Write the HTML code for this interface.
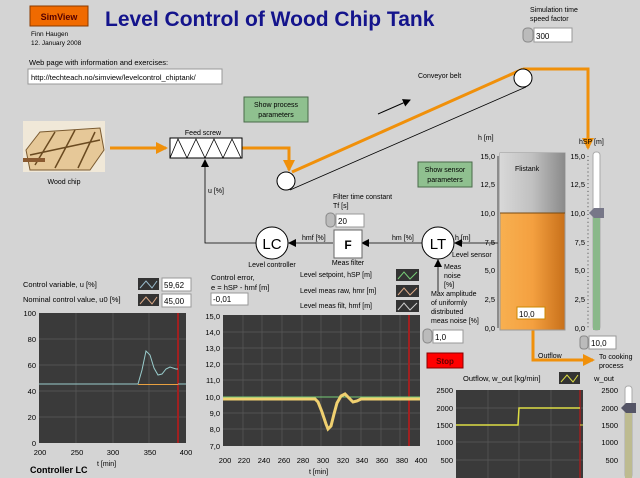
<!DOCTYPE html>
<html><head><meta charset="utf-8"><style>
body{margin:0;background:#d4d4d4;}
svg{display:block;font-family:"Liberation Sans",sans-serif;}
</style></head><body>
<svg width="640" height="478" viewBox="0 0 640 478" xmlns="http://www.w3.org/2000/svg">
<defs>
<linearGradient id="tk" x1="0" x2="1"><stop offset="0" stop-color="#d8d8d8"/><stop offset="0.5" stop-color="#c0c0c0"/><stop offset="1" stop-color="#8a8a8a"/></linearGradient>
<linearGradient id="tko" x1="0" x2="1"><stop offset="0" stop-color="#f8b050"/><stop offset="0.5" stop-color="#f4a040"/><stop offset="1" stop-color="#c8701a"/></linearGradient>
<marker id="ab" markerWidth="8" markerHeight="8" refX="7" refY="4" orient="auto" markerUnits="userSpaceOnUse"><path d="M0,0 L8,4 L0,8z" fill="#000"/></marker>
<marker id="ao" markerWidth="12" markerHeight="12" refX="10" refY="6" orient="auto" markerUnits="userSpaceOnUse"><path d="M0,0 L12,6 L0,12z" fill="#f0900a"/></marker>
</defs>
<rect width="640" height="478" fill="#d4d4d4"/>
<rect x="30" y="6" width="58" height="20" fill="#f06a00" stroke="#8a3a00"/>
<text x="59" y="20" font-size="9" font-weight="bold" fill="#500" text-anchor="middle">SimView</text>
<text x="105" y="26" font-size="21" font-weight="bold" fill="#14148c">Level Control of Wood Chip Tank</text>
<text x="31" y="36" font-size="6.5">Finn Haugen</text>
<text x="31" y="45" font-size="6.5">12. January 2008</text>
<text x="29" y="65" font-size="7.5">Web page with information and exercises:</text>
<rect x="28" y="69" width="194" height="15" fill="#fff" stroke="#999"/>
<text x="31" y="80" font-size="7.5">http://techteach.no/simview/levelcontrol_chiptank/</text>
<text x="530" y="12" font-size="7">Simulation time</text>
<text x="530" y="21" font-size="7">speed factor</text>
<rect x="523" y="28" width="10" height="14" rx="4" fill="#bbb" stroke="#888"/>
<rect x="534" y="28" width="38" height="14" fill="#fff" stroke="#999"/>
<text x="536" y="39" font-size="8">300</text>
<rect x="244" y="97" width="64" height="25" fill="#8fc08f" stroke="#4a6a4a"/>
<text x="276" y="107" font-size="7" text-anchor="middle">Show process</text>
<text x="276" y="117" font-size="7" text-anchor="middle">parameters</text>
<rect x="418" y="162" width="54" height="25" fill="#8fc08f" stroke="#4a6a4a"/>
<text x="445" y="172" font-size="7" text-anchor="middle">Show sensor</text>
<text x="445" y="182" font-size="7" text-anchor="middle">parameters</text>
<rect x="23" y="121" width="82" height="51" fill="#f0e8d8"/>
<path d="M26,150 L40,132 L100,128 L104,150 L90,170 L30,170z" fill="#e6c898" stroke="#7a5a30"/>
<path d="M35,165 L55,132 M55,168 L75,130 M78,168 L95,132 M30,155 L100,140" stroke="#6a4a20" stroke-width="1.5" fill="none"/>
<rect x="23" y="158" width="22" height="4" fill="#8a5a30"/>
<text x="64" y="184" font-size="7" text-anchor="middle">Wood chip</text>
<g stroke="#f0900a" stroke-width="3" fill="none">
<line x1="110" y1="148" x2="166" y2="148" marker-end="url(#ao)"/>
<polyline points="242,148 289,148 289,170" marker-end="url(#ao)"/>
<line x1="292" y1="172" x2="523" y2="69"/>
<polyline points="523,69 588,69 588,148" marker-end="url(#ao)"/>
<polyline points="533,330 533,360 593,360" marker-end="url(#ao)"/>
</g>
<text x="203" y="135" font-size="7" text-anchor="middle">Feed screw</text>
<rect x="170" y="138" width="72" height="20" fill="#fff" stroke="#000"/>
<polyline points="170,158 178,139 187,158 196,139 205,158 214,139 223,158 232,139 241,158" fill="none" stroke="#000" stroke-width="0.8"/>
<line x1="290" y1="190" x2="526" y2="87" stroke="#000" stroke-width="0.8"/>
<circle cx="286" cy="181" r="9" fill="#fff" stroke="#000"/>
<circle cx="523" cy="78" r="9" fill="#fff" stroke="#000"/>
<text x="418" y="78" font-size="7">Conveyor belt</text>
<line x1="378" y1="114" x2="410" y2="100" stroke="#000" marker-end="url(#ab)"/>
<polyline points="256,243 205,243 205,160" fill="none" stroke="#000" stroke-width="0.8" marker-end="url(#ab)"/>
<text x="208" y="193" font-size="7">u [%]</text>
<line x1="422" y1="243" x2="362" y2="243" stroke="#000" stroke-width="0.8" marker-end="url(#ab)"/>
<line x1="333" y1="243" x2="289" y2="243" stroke="#000" stroke-width="0.8" marker-end="url(#ab)"/>
<line x1="498" y1="243" x2="455" y2="243" stroke="#000" stroke-width="0.8" marker-end="url(#ab)"/>
<line x1="438" y1="292" x2="438" y2="260" stroke="#000" stroke-width="0.8" marker-end="url(#ab)"/>
<circle cx="272" cy="243" r="16" fill="#fff" stroke="#000"/>
<text x="272" y="249" font-size="15" text-anchor="middle">LC</text>
<circle cx="438" cy="243" r="16" fill="#fff" stroke="#000"/>
<text x="438" y="249" font-size="15" text-anchor="middle">LT</text>
<rect x="334" y="230" width="28" height="28" fill="#fff" stroke="#666"/>
<text x="348" y="249" font-size="12" font-weight="bold" text-anchor="middle">F</text>
<text x="302" y="240" font-size="7">hmf [%]</text>
<text x="392" y="240" font-size="7">hm [%]</text>
<text x="455" y="240" font-size="7">h [m]</text>
<text x="452" y="257" font-size="7">Level sensor</text>
<text x="272" y="267" font-size="7" text-anchor="middle">Level controller</text>
<text x="348" y="265" font-size="7" text-anchor="middle">Meas filter</text>
<text x="333" y="199" font-size="7">Filter time constant</text>
<text x="333" y="208" font-size="7">Tf [s]</text>
<rect x="326" y="213" width="9" height="14" rx="4" fill="#bbb" stroke="#888"/>
<rect x="336" y="214" width="28" height="13" fill="#fff" stroke="#999"/>
<text x="338" y="224" font-size="8">20</text>
<text x="444" y="269" font-size="7">Meas</text>
<text x="444" y="278" font-size="7">noise</text>
<text x="444" y="287" font-size="7">[%]</text>
<text x="431" y="296" font-size="7">Max amplitude</text>
<text x="431" y="305" font-size="7">of uniformly</text>
<text x="431" y="314" font-size="7">distributed</text>
<text x="431" y="323" font-size="7">meas noise [%]</text>
<rect x="423" y="329" width="9" height="14" rx="4" fill="#bbb" stroke="#888"/>
<rect x="433" y="330" width="30" height="13" fill="#fff" stroke="#999"/>
<text x="435" y="340" font-size="8">1,0</text>
<text x="300" y="277" font-size="7">Level setpoint, hSP [m]</text>
<text x="300" y="293" font-size="7">Level meas raw, hmr [m]</text>
<text x="300" y="308" font-size="7">Level meas filt, hmf [m]</text>
<g stroke-width="1" fill="none">
<rect x="396" y="269" width="23" height="12" fill="#333"/><polyline points="398,279 404,272 410,279 417,272" stroke="#7c7"/>
<rect x="396" y="285" width="23" height="12" fill="#333"/><polyline points="398,295 404,288 410,295 417,288" stroke="#da8"/>
<rect x="396" y="300" width="23" height="12" fill="#333"/><polyline points="398,310 404,303 410,310 417,303" stroke="#ccc"/>
</g>
<text x="478" y="140" font-size="7">h [m]</text>
<rect x="500" y="153" width="65" height="177" fill="url(#tko)" stroke="#999"/>
<rect x="500" y="153" width="65" height="60" fill="url(#tk)"/>
<line x1="500" y1="213" x2="565" y2="213" stroke="#7a4a10"/>
<text x="515" y="171" font-size="7">Flistank</text>
<rect x="517" y="307" width="28" height="12" fill="#fff" stroke="#c80"/>
<text x="519" y="317" font-size="8">10,0</text>
<g font-size="7.5" text-anchor="end">
<text x="495" y="159">15,0</text><text x="495" y="187">12,5</text><text x="495" y="216">10,0</text><text x="495" y="245">7,5</text><text x="495" y="273">5,0</text><text x="495" y="302">2,5</text><text x="495" y="331">0,0</text>
<text x="585" y="159">15,0</text><text x="585" y="187">12,5</text><text x="585" y="216">10,0</text><text x="585" y="245">7,5</text><text x="585" y="273">5,0</text><text x="585" y="302">2,5</text><text x="585" y="331">0,0</text>
</g>
<line x1="498" y1="156" x2="498" y2="328" stroke="#444"/>
<line x1="588" y1="156" x2="588" y2="328" stroke="#444" stroke-dasharray="1,2.87"/>
<text x="579" y="144" font-size="7">hSP [m]</text>
<rect x="593" y="152" width="7" height="178" rx="3" fill="#fff" stroke="#aaa"/>
<rect x="593" y="213" width="7" height="117" fill="#8ab88a"/>
<path d="M594,208 L604,208 L604,218 L594,218 L589,213z" fill="#778"/>
<rect x="580" y="336" width="8" height="13" rx="3" fill="#bbb" stroke="#888"/>
<rect x="589" y="336" width="27" height="13" fill="#fff" stroke="#999"/>
<text x="591" y="346" font-size="8">10,0</text>
<text x="538" y="358" font-size="7">Outflow</text>
<text x="599" y="359" font-size="7">To cooking</text>
<text x="599" y="368" font-size="7">process</text>
<rect x="427" y="353" width="36" height="15" fill="#f00" stroke="#800"/>
<text x="445" y="364" font-size="8" font-weight="bold" fill="#600" text-anchor="middle">Stop</text>
<text x="23" y="287" font-size="7.5">Control variable, u [%]</text>
<text x="23" y="302" font-size="7.5">Nominal control value, u0 [%]</text>
<rect x="138" y="278" width="21" height="12" fill="#333"/><polyline points="140,288 146,281 152,288 157,281" stroke="#9bc" fill="none"/>
<rect x="138" y="294" width="21" height="12" fill="#333"/><polyline points="140,304 146,297 152,304 157,297" stroke="#da8" fill="none"/>
<rect x="162" y="278" width="29" height="13" fill="#fff" stroke="#999"/><text x="164" y="288" font-size="8">59,62</text>
<rect x="162" y="294" width="29" height="13" fill="#fff" stroke="#999"/><text x="164" y="304" font-size="8">45,00</text>
<rect x="39" y="313" width="147" height="130" fill="#3a3a3a"/>
<g stroke="#5a5a5a" stroke-width="0.7">
<line x1="39" y1="339" x2="186" y2="339"/><line x1="39" y1="365" x2="186" y2="365"/><line x1="39" y1="391" x2="186" y2="391"/><line x1="39" y1="417" x2="186" y2="417"/>
<line x1="76" y1="313" x2="76" y2="443"/><line x1="113" y1="313" x2="113" y2="443"/><line x1="149" y1="313" x2="149" y2="443"/>
</g>
<line x1="178" y1="313" x2="178" y2="443" stroke="#a02020" stroke-width="2"/>
<line x1="138" y1="384.5" x2="178" y2="384.5" stroke="#e8a040"/>
<polyline points="39,384 138,384 142,370 146,351 150,355 154,368 158,375 162,374 166,369 170,367 176,369 178,369" fill="none" stroke="#9cc"/>
<line x1="178" y1="384" x2="186" y2="384" stroke="#9cc"/>
<g font-size="7.5" text-anchor="end"><text x="36" y="316">100</text><text x="36" y="342">80</text><text x="36" y="368">60</text><text x="36" y="394">40</text><text x="36" y="420">20</text><text x="36" y="446">0</text></g>
<g font-size="7.5" text-anchor="middle"><text x="40" y="455">200</text><text x="77" y="455">250</text><text x="113" y="455">300</text><text x="150" y="455">350</text><text x="186" y="455">400</text></g>
<text x="97" y="466" font-size="7">t [min]</text>
<text x="30" y="473" font-size="9" font-weight="bold">Controller LC</text>
<text x="211" y="280" font-size="7.5">Control error,</text>
<text x="211" y="290" font-size="7.5">e = hSP - hmf [m]</text>
<rect x="211" y="293" width="37" height="12" fill="#fff" stroke="#999"/><text x="213" y="302" font-size="8">-0,01</text>
<rect x="223" y="315" width="197" height="131" fill="#3a3a3a"/>
<g stroke="#5a5a5a" stroke-width="0.7">
<line x1="223" y1="332" x2="420" y2="332"/><line x1="223" y1="348" x2="420" y2="348"/><line x1="223" y1="364" x2="420" y2="364"/><line x1="223" y1="380" x2="420" y2="380"/><line x1="223" y1="397" x2="420" y2="397"/><line x1="223" y1="413" x2="420" y2="413"/><line x1="223" y1="429" x2="420" y2="429"/>
<line x1="243" y1="315" x2="243" y2="446"/><line x1="262" y1="315" x2="262" y2="446"/><line x1="282" y1="315" x2="282" y2="446"/><line x1="302" y1="315" x2="302" y2="446"/><line x1="321" y1="315" x2="321" y2="446"/><line x1="341" y1="315" x2="341" y2="446"/><line x1="361" y1="315" x2="361" y2="446"/><line x1="381" y1="315" x2="381" y2="446"/><line x1="400" y1="315" x2="400" y2="446"/>
</g>
<line x1="409" y1="315" x2="409" y2="446" stroke="#a02020" stroke-width="2"/>
<line x1="223" y1="397" x2="420" y2="397" stroke="#7c7"/>
<polyline points="223,399 315,399 318,402 322,412 326,424 328,429 331,426 334,414 337,403 341,396 345,394 349,398 353,402 357,401 361,399 420,399" fill="none" stroke="#f0d070" stroke-width="3"/>
<g font-size="7.5" text-anchor="end"><text x="220" y="319">15,0</text><text x="220" y="335">14,0</text><text x="220" y="351">13,0</text><text x="220" y="367">12,0</text><text x="220" y="383">11,0</text><text x="220" y="400">10,0</text><text x="220" y="416">9,0</text><text x="220" y="432">8,0</text><text x="220" y="449">7,0</text></g>
<g font-size="7.5" text-anchor="middle"><text x="225" y="463">200</text><text x="244" y="463">220</text><text x="264" y="463">240</text><text x="284" y="463">260</text><text x="303" y="463">280</text><text x="323" y="463">300</text><text x="343" y="463">320</text><text x="362" y="463">340</text><text x="382" y="463">360</text><text x="402" y="463">380</text><text x="421" y="463">400</text></g>
<text x="309" y="474" font-size="7">t [min]</text>
<text x="463" y="381" font-size="7.5">Outflow, w_out [kg/min]</text>
<rect x="559" y="372" width="21" height="12" fill="#333"/><polyline points="561,382 567,375 573,382 578,375" stroke="#dd4" fill="none"/>
<text x="594" y="381" font-size="7.5">w_out</text>
<rect x="456" y="390" width="127" height="88" fill="#3a3a3a"/>
<g stroke="#5a5a5a" stroke-width="0.7">
<line x1="456" y1="408" x2="583" y2="408"/><line x1="456" y1="425" x2="583" y2="425"/><line x1="456" y1="442" x2="583" y2="442"/><line x1="456" y1="460" x2="583" y2="460"/>
<line x1="488" y1="390" x2="488" y2="478"/><line x1="519" y1="390" x2="519" y2="478"/><line x1="551" y1="390" x2="551" y2="478"/>
</g>
<line x1="580" y1="390" x2="580" y2="478" stroke="#a02020" stroke-width="1.5"/>
<polyline points="456,425 518,425 519,408 580,408" fill="none" stroke="#dd4" stroke-width="1.5"/>
<line x1="580" y1="425" x2="583" y2="425" stroke="#dd4"/>
<g font-size="7.5" text-anchor="end"><text x="453" y="393">2500</text><text x="453" y="411">2000</text><text x="453" y="428">1500</text><text x="453" y="445">1000</text><text x="453" y="463">500</text></g>
<g font-size="7.5" text-anchor="end"><text x="618" y="393">2500</text><text x="618" y="411">2000</text><text x="618" y="428">1500</text><text x="618" y="445">1000</text><text x="618" y="463">500</text></g>
<rect x="625" y="386" width="7" height="92" rx="3" fill="#fff" stroke="#aaa"/>
<rect x="625" y="408" width="7" height="70" fill="#bdbb90"/>
<path d="M626,403 L636,403 L636,413 L626,413 L621,408z" fill="#556"/>
</svg>
</body></html>
